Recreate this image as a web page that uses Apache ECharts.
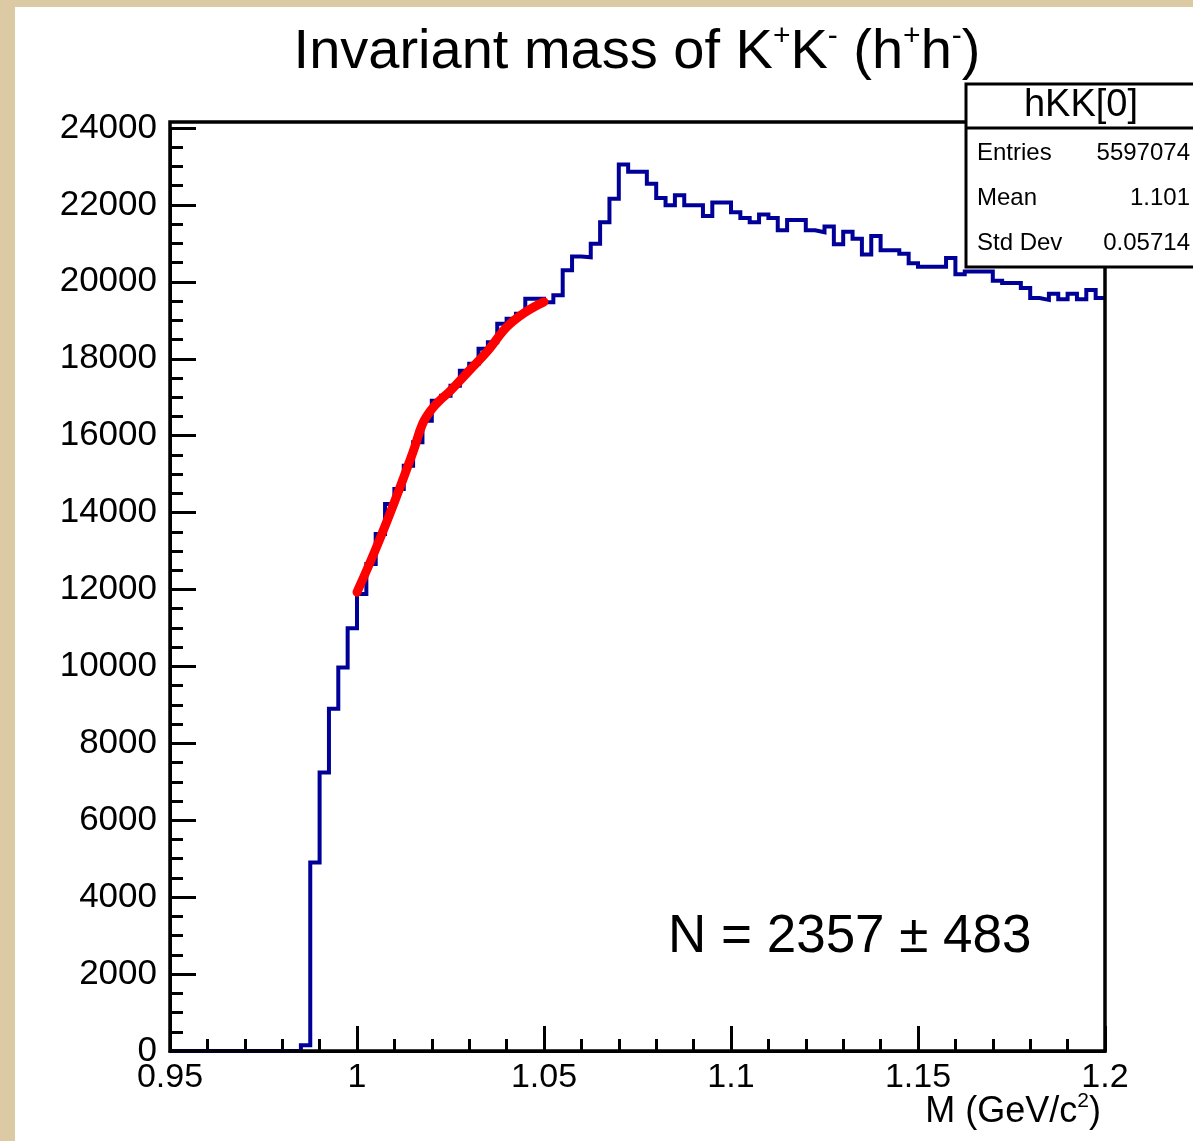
<!DOCTYPE html>
<html>
<head>
<meta charset="utf-8">
<script src="https://cdn.jsdelivr.net/npm/echarts@6/dist/echarts.min.js"></script>
<style>
  html, body { margin: 0; padding: 0; width: 1193px; height: 1141px; background: #dccaa5; overflow: hidden; }
  #chart { position: absolute; left: 15px; top: 7px; width: 1178px; height: 1134px; background: #ffffff; }
</style>
</head>
<body>
<div id="chart"></div>
<script>
// ---- Data ----
const histMin = 0.95;          // first bin low edge
const binWidth = 0.0025;       // 100 bins over [0.95, 1.2]
const counts = [
  0, 0, 0, 0, 0, 0, 0, 0, 0, 0,
  0, 0, 0, 0, 150, 4900, 7240, 8900, 9970, 10990,
  11880, 12660, 13440, 14220, 14610, 15220, 15830, 16390, 16910, 17040,
  17300, 17690, 17870, 18260, 18430, 18910, 19040, 19170, 19560, 19560,
  19470, 19650, 20300, 20660, 20640, 20990, 21550, 22160, 23050, 22860,
  22860, 22550, 22180, 21990, 22250, 21990, 21990, 21710, 22060, 22060,
  21810, 21660, 21550, 21750, 21660, 21340, 21610, 21610, 21340, 21290,
  21440, 20980, 21300, 21120, 20710, 21190, 20820, 20820, 20730, 20480,
  20390, 20390, 20390, 20620, 20200, 20270, 20270, 20270, 20030, 19970,
  19970, 19840, 19580, 19530, 19690, 19550, 19690, 19550, 19790, 19580
];
const fitX = [1.000, 1.005, 1.010, 1.015, 1.0175, 1.020, 1.0225, 1.025, 1.030, 1.035, 1.040, 1.045, 1.050];
const fitY = [11930, 13050, 14270, 15580, 16300, 16690, 16950, 17170, 17690, 18210, 18820, 19210, 19480];
const xTicks = [0.95, 1.0, 1.05, 1.1, 1.15, 1.2];
const yTicks = [0, 2000, 4000, 6000, 8000, 10000, 12000, 14000, 16000, 18000, 20000, 22000, 24000];
const xTitle = '{a|M (GeV/c}{s|2}{a|)}';
const statsName = 'hKK[0]';
const statsRows = [['Entries', '5597074'], ['Mean', '1.101'], ['Std Dev', '0.05714']];
const fitResult = 'N = 2357 \u00B1 483';

// ---- Build histogram outline from bins ----
const histLine = [];
counts.forEach(function (v, i) {
  const lo = +(histMin + i * binWidth).toFixed(6);
  const hi = +(histMin + (i + 1) * binWidth).toFixed(6);
  histLine.push([lo, v]);
  histLine.push([hi, v]);
});
const fitLine = fitX.map(function (x, i) { return [x, fitY[i]]; });

const FONT = 'Liberation Sans, Arial, Helvetica, sans-serif';
const chart = echarts.init(document.getElementById('chart'), null, { renderer: 'canvas' });

const gridL = 155, gridR = 88, gridT = 121, gridB = 90;
const W = 1178, H = 1134;

function statText(x, y, text, align, size) {
  return { type: 'text', z: 101, x: x, y: y,
    style: { text: text, font: size + 'px ' + FONT, fill: '#000', textAlign: align, textVerticalAlign: 'middle' } };
}

chart.setOption({
  animation: false,
  backgroundColor: '#ffffff',
  title: {
    left: 617, top: 10, textAlign: 'center',
    text: '{n|Invariant mass of K}{s|+}{n|K}{s|-}{n| (h}{s|+}{n|h}{s|-}{n|)}',
    textStyle: {
      fontWeight: 'normal',
      rich: {
        n: { fontFamily: FONT, fontSize: 56, fontWeight: 'normal', color: '#000', lineHeight: 62 },
        s: { fontFamily: FONT, fontSize: 30, fontWeight: 'normal', color: '#000', lineHeight: 30, verticalAlign: 'top' }
      }
    }
  },
  grid: { left: gridL, right: gridR, top: gridT, bottom: gridB, show: false,
          containLabel: false, outerBoundsMode: 'none' },
  xAxis: {
    type: 'value', min: xTicks[0], max: xTicks[xTicks.length - 1], interval: 0.05,
    axisLine: { show: true, onZero: false, lineStyle: { color: '#000', width: 3 } },
    axisTick: { show: true, inside: true, length: 25, lineStyle: { color: '#000', width: 3 } },
    minorTick: { show: true, splitNumber: 5, length: 12, lineStyle: { color: '#000', width: 3 } },
    splitLine: { show: false },
    axisLabel: {
      margin: 10, fontFamily: FONT, fontSize: 34, color: '#000',
      formatter: function (v) { return String(+v.toFixed(3)); }
    }
  },
  yAxis: {
    type: 'value', min: yTicks[0], max: yTicks[yTicks.length - 1], interval: 2000,
    axisLine: { show: true, onZero: false, lineStyle: { color: '#000', width: 3 } },
    axisTick: { show: true, inside: true, length: 26, lineStyle: { color: '#000', width: 3 } },
    minorTick: { show: true, splitNumber: 4, length: 13, lineStyle: { color: '#000', width: 3 } },
    splitLine: { show: false },
    axisLabel: { margin: 13, fontFamily: FONT, fontSize: 35, color: '#000',
      formatter: function (v) { return String(v); } }
  },
  series: [
    {
      name: 'hKK[0]', type: 'line', data: histLine, showSymbol: false, symbol: 'none',
      clip: false,
      lineStyle: { color: '#000099', width: 4, join: 'miter' }, z: 3
    },
    {
      name: 'fit', type: 'line', data: fitLine, smooth: 0.4, showSymbol: false, symbol: 'none',
      lineStyle: { color: '#ff0000', width: 9, cap: 'round' }, z: 4
    }
  ],
  graphic: [
    // plot frame
    {
      type: 'rect', z: 10, silent: true,
      shape: { x: gridL, y: 115, width: W - gridL - gridR, height: H - gridB - 115 },
      style: { fill: 'none', stroke: '#000', lineWidth: 3.5 }
    },
    // x-axis title
    {
      type: 'text', z: 20, x: 1086, y: 1084,
      style: {
        text: xTitle, textAlign: 'right', textVerticalAlign: 'top',
        rich: {
          a: { fontFamily: FONT, fontSize: 36, fill: '#000', lineHeight: 42 },
          s: { fontFamily: FONT, fontSize: 21, fill: '#000', lineHeight: 22, verticalAlign: 'top' }
        }
      }
    },
    // stats box
    { type: 'rect', z: 100, shape: { x: 951, y: 77, width: 260, height: 183 },
      style: { fill: '#fff', stroke: '#000', lineWidth: 3 } },
    { type: 'line', z: 101, shape: { x1: 951, y1: 121, x2: 1211, y2: 121 }, style: { stroke: '#000', lineWidth: 3 } },
    statText(1066, 99, statsName, 'center', 38),
    statText(962, 146, statsRows[0][0], 'left', 24),
    statText(1175, 146, statsRows[0][1], 'right', 24),
    statText(962, 191, statsRows[1][0], 'left', 24),
    statText(1175, 191, statsRows[1][1], 'right', 24),
    statText(962, 236, statsRows[2][0], 'left', 24),
    statText(1175, 236, statsRows[2][1], 'right', 24),
    // fit result annotation
    {
      type: 'text', z: 20, x: 653, y: 930,
      style: { text: fitResult, font: '53px ' + FONT, fill: '#000', textAlign: 'left', textVerticalAlign: 'middle' }
    }
  ]
});
</script>
</body>
</html>
